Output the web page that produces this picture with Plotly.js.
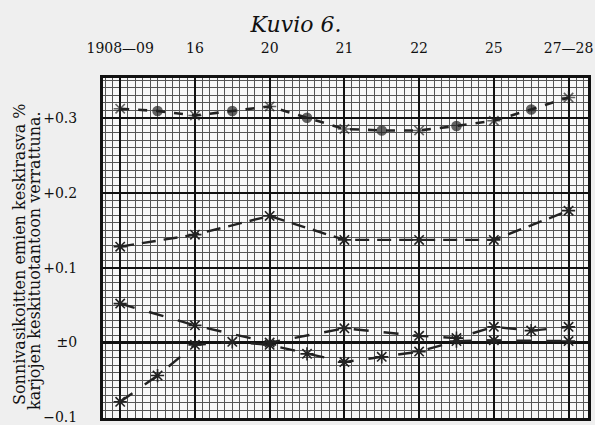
<!DOCTYPE html>
<html>
<head>
<meta charset="utf-8">
<script src="https://cdn.plot.ly/plotly-3.0.1.min.js"></script>
<style>html,body{margin:0;padding:0;background:#efefef;}#chart{width:595px;height:425px;}</style>
</head>
<body>
<div id="chart"></div>
<script>
// Category labels (top axis)
const categories = ["1908—09", "16", "20", "21", "22", "25", "27—28"];
const categoryPos = [0, 1, 2, 3, 4, 5, 6];

// Series 1 (top, stars at years, dots between)
const s1x = [0, 0.5, 1, 1.5, 2, 2.5, 3, 3.5, 4, 4.5, 5, 5.5, 6];
const s1y = [0.312, 0.309, 0.303, 0.309, 0.315, 0.300, 0.285, 0.283, 0.283, 0.289, 0.296, 0.311, 0.327];

// Series 2 (dashed, around +0.15)
const s2x = [0, 1, 2, 3, 4, 5, 6];
const s2y = [0.128, 0.144, 0.169, 0.137, 0.137, 0.137, 0.176];

// Series 3 (starts near +0.05)
const s3x = [0, 1, 2, 3, 4, 4.5, 5, 5.5, 6];
const s3y = [0.052, 0.023, 0.000, 0.019, 0.009, 0.006, 0.021, 0.016, 0.021];

// Series 4 (starts near -0.08)
const s4x = [0, 0.5, 1, 1.5, 2, 2.5, 3, 3.5, 4, 4.5, 5, 6];
const s4y = [-0.079, -0.044, -0.003, 0.001, -0.003, -0.015, -0.026, -0.019, -0.012, 0.002, 0.003, 0.002];

const yTickVals = [-0.1, 0, 0.1, 0.2, 0.3];
const yTickText = ["−0.1", "±0", "+0.1", "+0.2", "+0.3"];

const yTitleLines = ["Sonnivasikoitten emien keskirasva %", "karjojen keskituotantoon verrattuna."];

const ink = "#222";
const star = {symbol: "asterisk-open", size: 11, line: {color: ink, width: 1.6}, color: ink};

const traces = [
  {x: s1x, y: s1y, mode: "lines+markers", line: {color: ink, width: 2.6, dash: "dash"},
   marker: {symbol: s1x.map(v => Number.isInteger(v) ? "asterisk-open" : "circle"),
            size: s1x.map(v => Number.isInteger(v) ? 11 : 9), color: ink, line: {color: ink, width: 1.6}},
   showlegend: false, hoverinfo: "skip"},
  {x: s2x, y: s2y, mode: "lines+markers", line: {color: ink, width: 2.4, dash: "14px,8px"}, marker: star, showlegend: false, hoverinfo: "skip"},
  {x: s3x, y: s3y, mode: "lines+markers", line: {color: ink, width: 2.4, dash: "longdash"}, marker: star, showlegend: false, hoverinfo: "skip"},
  {x: s4x, y: s4y, mode: "lines+markers", line: {color: ink, width: 2.4, dash: "longdash"}, marker: star, showlegend: false, hoverinfo: "skip"}
];

const serif = "DejaVu Serif, Liberation Serif, serif";
const layout = {
  width: 595, height: 425,
  margin: {l: 103, r: 7, t: 78, b: 7},
  paper_bgcolor: "#efefef",
  plot_bgcolor: "#f8f8f8",
  title: {text: "<i>Kuvio 6.</i>", x: 296/595, xanchor: "center", xref: "container", y: 1 - 24/425, yanchor: "middle", yref: "container",
          font: {family: serif, size: 22, color: "#111"}},
  xaxis: {
    range: [-0.23, 6.26], side: "top",
    tickmode: "array", tickvals: categoryPos, ticktext: categories,
    ticks: "", ticklabelstandoff: 16, ticklabeloverflow: "allow",
    tickfont: {family: serif, size: 14, color: "#111"},
    showgrid: true, gridcolor: "#111", gridwidth: 2,
    zeroline: false,
    showline: true, mirror: true, linecolor: "#111", linewidth: 3,
    minor: {tickmode: "linear", tick0: 0, dtick: 0.1, showgrid: true, gridcolor: "#555", gridwidth: 1, ticks: ""}
  },
  yaxis: {
    range: [-0.1006, 0.353],
    tickmode: "array", tickvals: yTickVals, ticktext: yTickText,
    ticks: "", ticklabelstandoff: 20, ticklabeloverflow: "allow",
    tickfont: {family: serif, size: 14, color: "#111"},
    showgrid: true, gridcolor: "#111", gridwidth: 2,
    zeroline: true, zerolinecolor: "#111", zerolinewidth: 3,
    showline: true, mirror: true, linecolor: "#111", linewidth: 3,
    minor: {tickmode: "linear", tick0: 0, dtick: 0.01, showgrid: true, gridcolor: "#555", gridwidth: 1, ticks: ""}
  },
  annotations: [
    {text: yTitleLines[0], xref: "paper", yref: "paper", x: (20 - 103) / 485, y: (418 - 255) / 340,
     xanchor: "center", yanchor: "middle", textangle: -90, showarrow: false,
     font: {family: serif, size: 16, color: "#111"}},
    {text: yTitleLines[1], xref: "paper", yref: "paper", x: (34 - 103) / 485, y: (418 - 261) / 340,
     xanchor: "center", yanchor: "middle", textangle: -90, showarrow: false,
     font: {family: serif, size: 16, color: "#111"}}
  ]
};

Plotly.newPlot("chart", traces, layout, {staticPlot: true, displayModeBar: false});
</script>
</body>
</html>
